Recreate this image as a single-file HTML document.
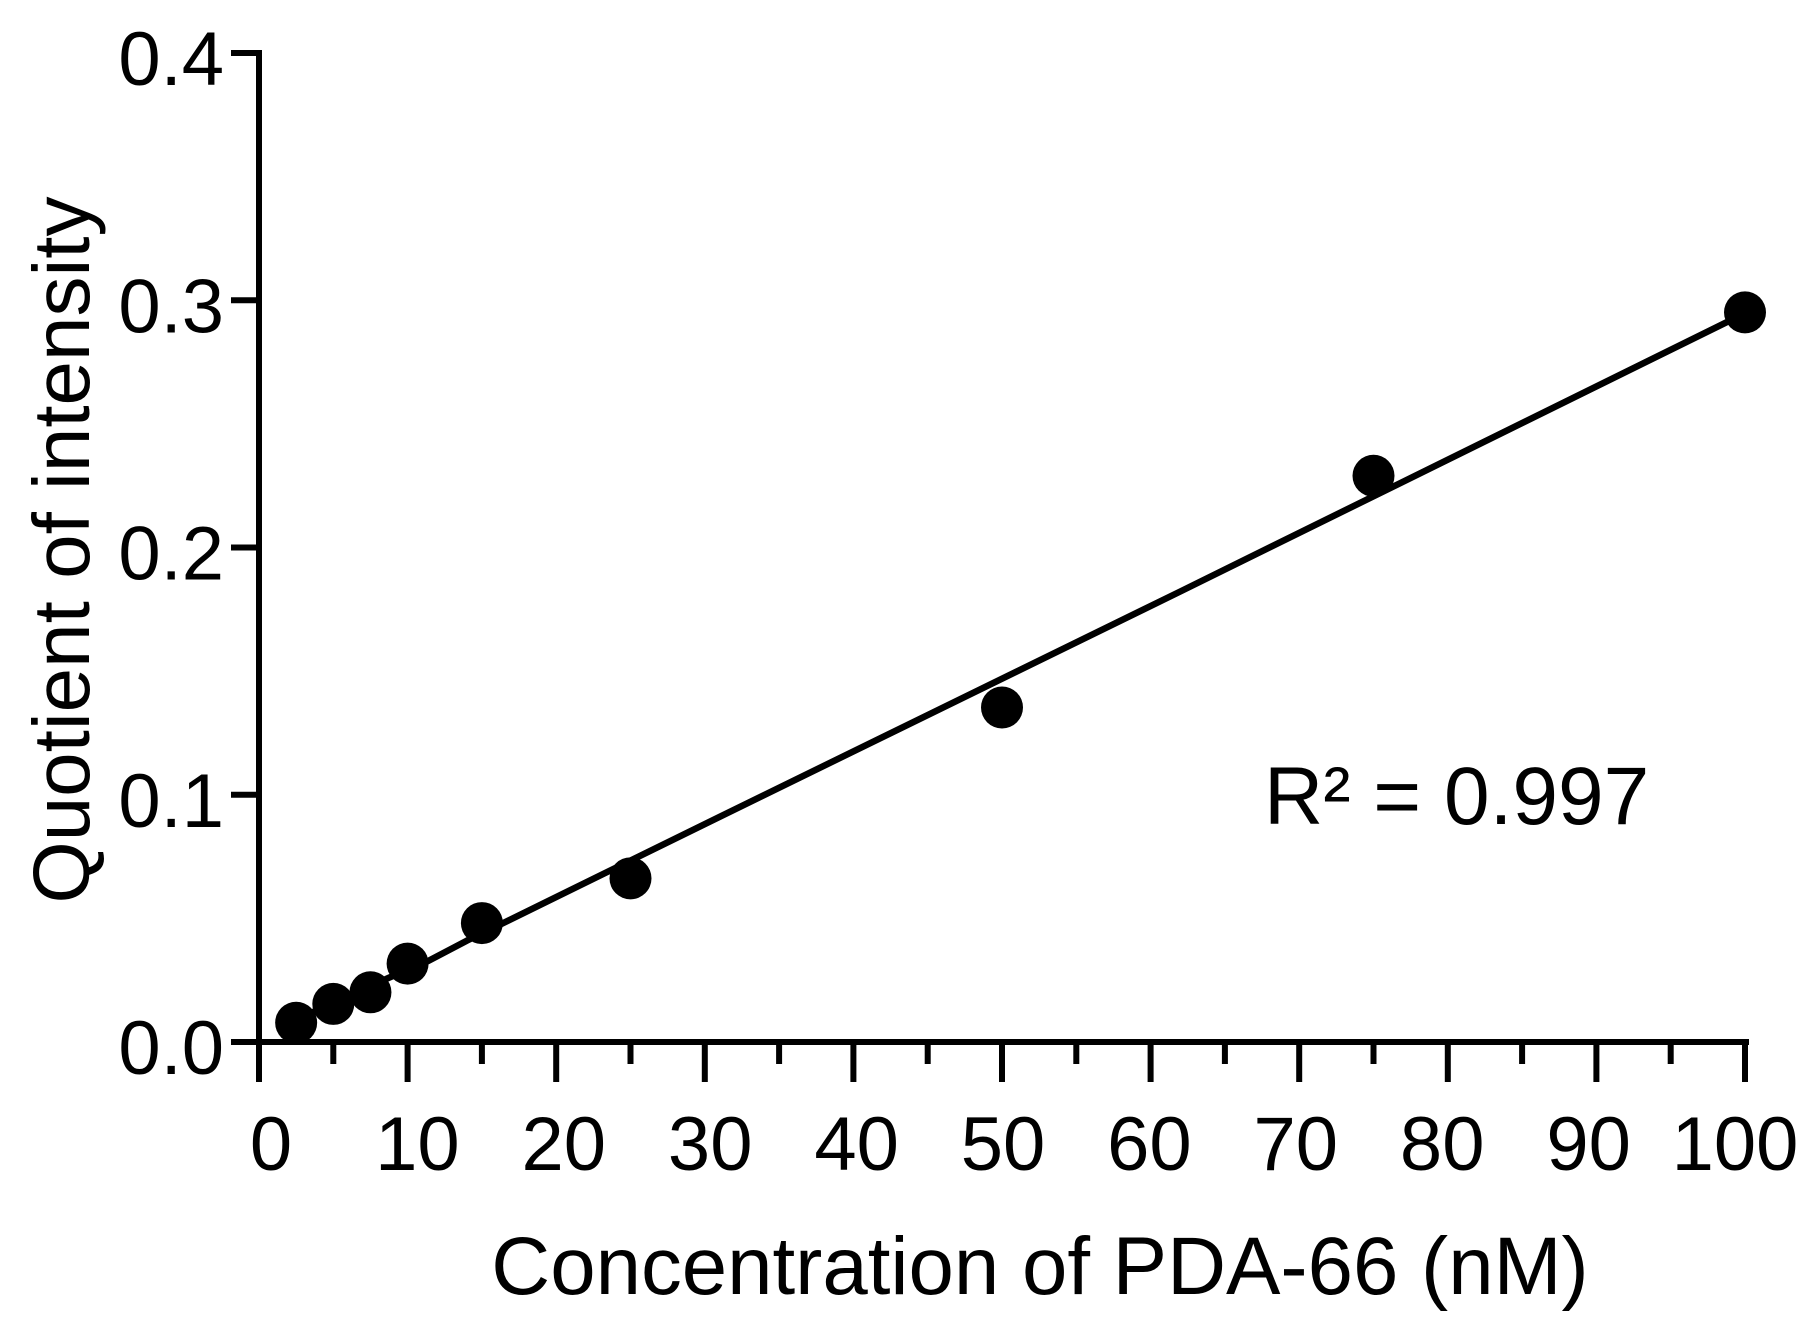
<!DOCTYPE html>
<html lang="en">
<head>
<meta charset="utf-8">
<title>Quotient of intensity vs concentration of PDA-66</title>
<style>
html,body{margin:0;padding:0;background:#fff;}
svg{display:block;}
text{font-family:"Liberation Sans",Arial,sans-serif;fill:#000;}
</style>
</head>
<body>
<svg id="chart" xmlns="http://www.w3.org/2000/svg" width="1812" height="1325" viewBox="0 0 1812 1325">
  <rect x="0" y="0" width="1812" height="1325" fill="#fff"/>
  <g id="axes"></g>
  <path id="fit" fill="none" stroke="#000" stroke-width="6.5" stroke-linejoin="round"/>
  <g id="points"></g>
  <text x="1040" y="1294" font-size="81.6" text-anchor="middle">Concentration of PDA-66 (nM)</text>
  <text transform="translate(89,550) rotate(-90)" font-size="80" text-anchor="middle">Quotient of intensity</text>
  <text x="1264" y="824" font-size="82">R² = 0.997</text>
</svg>
<script>
const xMajorTicks = [0, 10, 20, 30, 40, 50, 60, 70, 80, 90, 100];
const xMinorTicks = [5, 15, 25, 35, 45, 55, 65, 75, 85, 95];
const xTickLabels = ['0', '10', '20', '30', '40', '50', '60', '70', '80', '90', '100'];
const yTicks = [0, 0.1, 0.2, 0.3, 0.4];
const yTickLabels = ['0.0', '0.1', '0.2', '0.3', '0.4'];
const concentration = [2.5, 5, 7.5, 10, 15, 25, 50, 75, 100];
const quotient = [0.0078, 0.0154, 0.0201, 0.0317, 0.0481, 0.0662, 0.1353, 0.229, 0.2951];
const fitConcentration = [2.5, 8.7, 11.4, 14, 16.4, 31, 62, 98.7, 100];
const fitQuotient = [0.009, 0.0259, 0.0328, 0.0410, 0.048, 0.0911, 0.1822, 0.2909, 0.2949];

const NS = 'http://www.w3.org/2000/svg';
const X0 = 259, X100 = 1745, Y0 = 1042, Y4 = 53;
function sx(v) { return X0 + (v / 100) * (X100 - X0); }
function sy(v) { return Y0 - (v / 0.4) * (Y0 - Y4); }
function make(tag, attrs) {
  const el = document.createElementNS(NS, tag);
  for (const k in attrs) el.setAttribute(k, attrs[k]);
  return el;
}
const axes = document.getElementById('axes');
const lineStyle = { stroke: '#000', 'stroke-width': 6 };

const yAxisLine = make('line', Object.assign({ x1: sx(0), x2: sx(0), y1: sy(0.4) - 3, y2: 1082 }, lineStyle));


axes.appendChild(yAxisLine);

const xAxisLine = make('line', Object.assign({ x1: 231, x2: sx(100) + 4, y1: sy(0), y2: sy(0) }, lineStyle));


axes.appendChild(xAxisLine);

yTicks.forEach(function (v, i) {
  const tick = make('line', Object.assign({ x1: 231, x2: sx(0), y1: sy(v), y2: sy(v) }, lineStyle));
  
  
  axes.appendChild(tick);
  const label = make('text', { x: 224, y: sy(v) + 32, 'font-size': 76, 'text-anchor': 'end' });
  
  
  label.textContent = yTickLabels[i];
  axes.appendChild(label);
});

xMajorTicks.forEach(function (v, i) {
  const tick = make('line', Object.assign({ x1: sx(v), x2: sx(v), y1: sy(0), y2: 1082 }, lineStyle));
  
  
  axes.appendChild(tick);
  const label = make('text', { x: sx(v) + 12 - 0.22 * v, y: 1170, 'font-size': 76, 'text-anchor': 'middle' });
  
  
  label.textContent = xTickLabels[i];
  axes.appendChild(label);
});

xMinorTicks.forEach(function (v) {
  const tick = make('line', Object.assign({ x1: sx(v), x2: sx(v), y1: sy(0), y2: 1064 }, lineStyle));
  
  
  axes.appendChild(tick);
});

document.getElementById('fit').setAttribute('d', fitConcentration.map(function (v, i) {
  return (i ? 'L' : 'M') + sx(v).toFixed(1) + ' ' + sy(fitQuotient[i]).toFixed(1);
}).join(' '));

const points = document.getElementById('points');
concentration.forEach(function (v, i) {
  const dot = make('circle', { cx: sx(v), cy: sy(quotient[i]), r: 21, fill: '#000' });
  
  
  points.appendChild(dot);
});
</script>
</body>
</html>
